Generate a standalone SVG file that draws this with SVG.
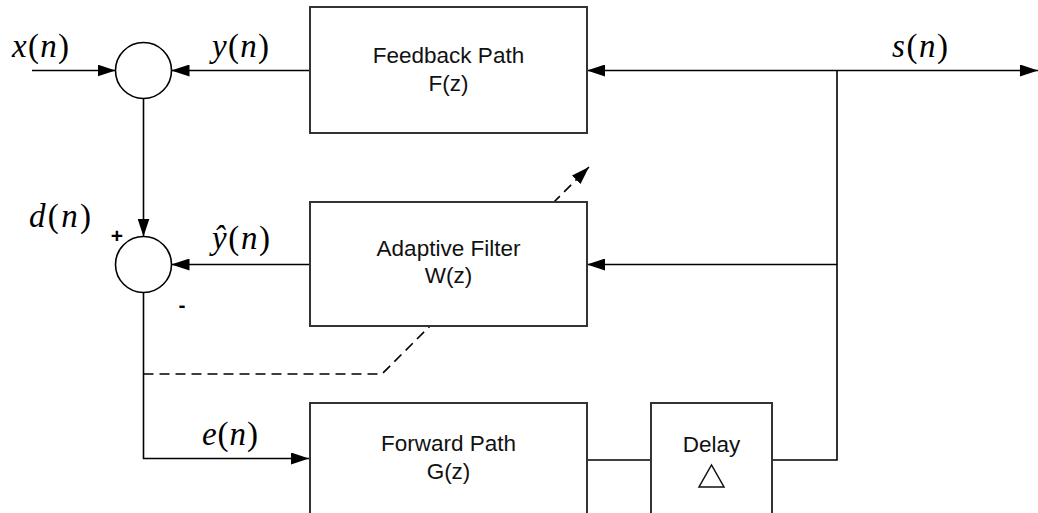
<svg xmlns="http://www.w3.org/2000/svg" width="1038" height="513" viewBox="0 0 1038 513">
<style>
.box{fill:#fff;stroke:#333;stroke-width:2}
.ln{fill:none;stroke:#000;stroke-width:1.6}
.dash{fill:none;stroke:#000;stroke-width:1.6;stroke-dasharray:10 6}
.sum{fill:#fff;stroke:#000;stroke-width:1.6}
.lbl{font-family:"Liberation Sans",Arial,sans-serif;font-size:22.5px;fill:#111;text-anchor:middle}
.m{font-family:"Liberation Serif","Times New Roman",serif;font-size:33px;fill:#000}
.i{font-style:italic}
.sg{font-family:"Liberation Sans",Arial,sans-serif;font-size:21px;font-weight:bold;fill:#000;text-anchor:middle}
</style>
<defs>
<marker id="ah" markerWidth="18" markerHeight="12" refX="18" refY="6" orient="auto" markerUnits="userSpaceOnUse">
<path d="M0,0 L18,6 L0,12 Z" fill="#000"/>
</marker>
</defs>
<rect width="1038" height="513" fill="#fff"/>
<g id="connectors">
<line class="ln" x1="32" y1="70.5" x2="115.5" y2="70.5" marker-end="url(#ah)"/>
<line class="ln" x1="310" y1="70.5" x2="171.5" y2="70.5" marker-end="url(#ah)"/>
<line class="ln" x1="837" y1="70.5" x2="1038" y2="70.5" marker-end="url(#ah)"/>
<line class="ln" x1="837" y1="70.5" x2="587" y2="70.5" marker-end="url(#ah)"/>
<line class="ln" x1="143.5" y1="98.5" x2="143.5" y2="236.5" marker-end="url(#ah)"/>
<line class="ln" x1="837" y1="264.5" x2="587" y2="264.5" marker-end="url(#ah)"/>
<line class="ln" x1="310" y1="264.5" x2="171.5" y2="264.5" marker-end="url(#ah)"/>
<polyline class="ln" points="143.5,292.5 143.5,458.5 309,458.5" marker-end="url(#ah)"/>
<line class="ln" x1="587" y1="460" x2="651" y2="460"/>
<polyline class="ln" points="772,460 837,460 837,70.5"/>
<polyline class="dash" points="143.5,374 382,374 589,167" marker-end="url(#ah)"/>
</g>
<g id="sum1"><circle class="sum" cx="143.5" cy="70.5" r="28"/></g>
<g id="sum2"><circle class="sum" cx="143.5" cy="264.5" r="28"/>
<text class="sg" x="117" y="243">+</text>
<text class="sg" x="182" y="312">-</text></g>
<g id="feedback"><rect class="box" x="310" y="7" width="277" height="126"/>
<text class="lbl" x="448.5" y="63">Feedback Path</text>
<text class="lbl" x="448.5" y="91">F(z)</text></g>
<g id="adaptive"><rect class="box" x="310" y="202" width="277" height="124"/>
<text class="lbl" x="448.5" y="256">Adaptive Filter</text>
<text class="lbl" x="448.5" y="283">W(z)</text></g>
<g id="forward"><rect class="box" x="310" y="403" width="277" height="130"/>
<text class="lbl" x="448.5" y="451">Forward Path</text>
<text class="lbl" x="448.5" y="479">G(z)</text></g>
<g id="delay"><rect class="box" x="651" y="403" width="121" height="130"/>
<text class="lbl" x="711.5" y="452">Delay</text>
<polygon points="699,487 724,487 711.5,465" fill="none" stroke="#111" stroke-width="1.5"/></g>
<g id="labels">
<text class="m" x="12" y="57" textLength="57"><tspan class="i">x</tspan>(<tspan class="i">n</tspan>)</text>
<text class="m" x="212" y="57" textLength="57"><tspan class="i">y</tspan>(<tspan class="i">n</tspan>)</text>
<text class="m" x="892" y="57" textLength="56"><tspan class="i">s</tspan>(<tspan class="i">n</tspan>)</text>
<text class="m" x="29" y="227" textLength="62"><tspan class="i">d</tspan>(<tspan class="i">n</tspan>)</text>
<text class="m" x="212" y="249" textLength="58"><tspan class="i">ŷ</tspan>(<tspan class="i">n</tspan>)</text>
<text class="m" x="202" y="445" textLength="56"><tspan class="i">e</tspan>(<tspan class="i">n</tspan>)</text>
</g>
</svg>
